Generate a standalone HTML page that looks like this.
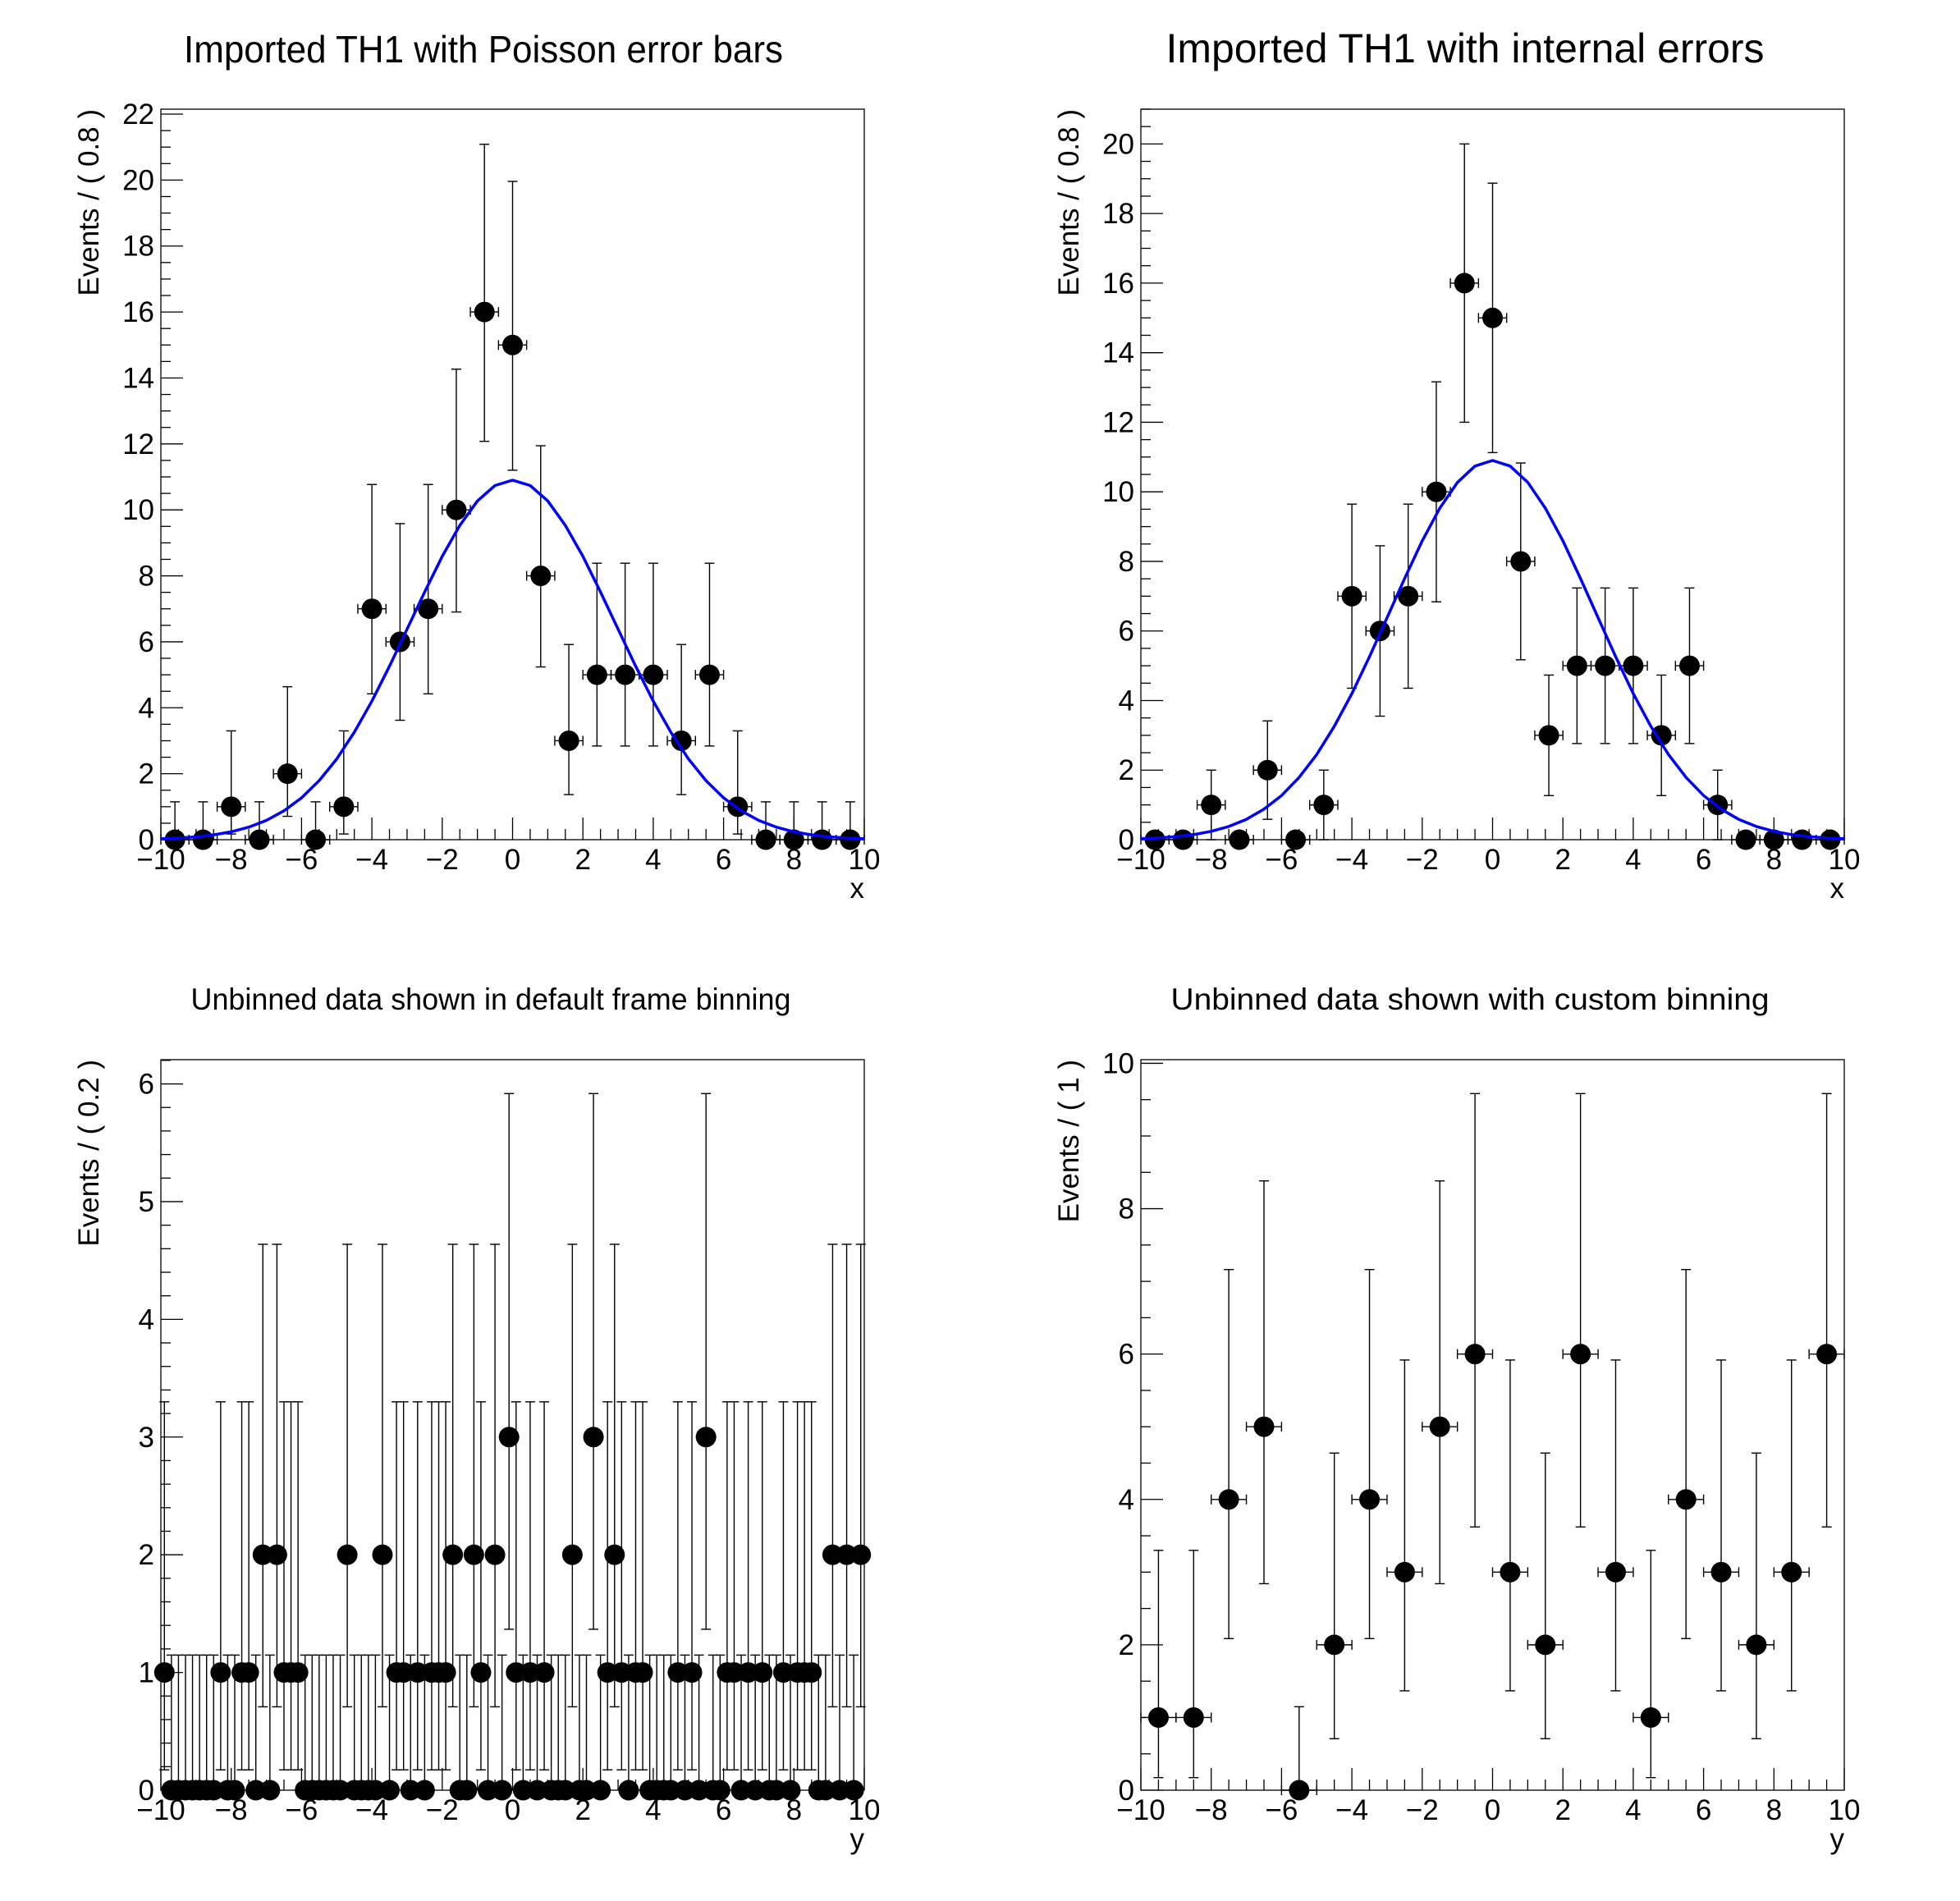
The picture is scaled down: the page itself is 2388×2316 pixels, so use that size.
<!DOCTYPE html>
<html><head><meta charset="utf-8"><style>
html,body{margin:0;padding:0;background:#fff;}
svg{display:block;font-family:"Liberation Sans",Arial,sans-serif;}
</style></head><body>
<svg id="root" width="2388" height="2316" viewBox="0 0 2388 2316" xmlns="http://www.w3.org/2000/svg"></svg>
<script>
// ---- data ----
const topBinCenters = [-9.6,-8.8,-8.0,-7.2,-6.4,-5.6,-4.8,-4.0,-3.2,-2.4,-1.6,-0.8,0,0.8,1.6,2.4,3.2,4.0,4.8,5.6,6.4,7.2,8.0,8.8,9.6];
const topCounts = [0,0,1,0,2,0,1,7,6,7,10,16,15,8,3,5,5,5,3,5,1,0,0,0,0];
const poissonLo = [0,0.8273,1.2918,1.6328,1.9144,2.1592,2.3788,2.5781,2.7622,2.9342,3.0958,3.2489,3.3947,3.5341,3.6680,3.7970,3.9215];
const poissonHi = [1.1479,2.2994,2.6378,2.9181,3.1627,3.3824,3.5834,3.7699,3.9448,4.1100,4.2670,4.4169,4.5606,4.6987,4.8319,4.9605,5.0850];
const sqrtErr = [0,1,1.414,1.732,2,2.236,2.449,2.646,2.828,3,3.162,3.317,3.464,3.606,3.742,3.873,4];
const curveX = [-10,-9.5,-9,-8.5,-8,-7.5,-7,-6.5,-6,-5.5,-5,-4.5,-4,-3.5,-3,-2.5,-2,-1.5,-1,-0.5,0,0.5,1,1.5,2,2.5,3,3.5,4,4.5,5,5.5,6,6.5,7,7.5,8,8.5,9,9.5,10];
const curveY = [0.028,0.050,0.087,0.147,0.240,0.381,0.585,0.877,1.27,1.79,2.45,3.26,4.20,5.26,6.38,7.51,8.59,9.53,10.27,10.74,10.9,10.74,10.27,9.53,8.59,7.51,6.38,5.26,4.20,3.26,2.45,1.79,1.27,0.877,0.585,0.381,0.240,0.147,0.087,0.050,0.028];
const fineBinWidth = 0.2;
const fineCounts = [1,0,0,0,0,0,0,0,1,0, 0,1,1,0,2,0,2,1,1,1, 0,0,0,0,0,0,2,0,0,0, 0,2,0,1,1,0,1,0,1,1, 1,2,0,0,2,1,0,2,0,3,
  1,0,1,0,1,0,0,0,2,0, 0,3,0,1,2,1,0,1,1,0, 0,0,0,1,0,1,0,3,0,0, 1,1,0,1,0,1,0,0,1,0, 1,1,1,0,0,2,0,2,0,2];
const customBinWidth = 1;
const customCounts = [1,1,4,5,0,2,4,3,5,6,3,2,6,3,1,4,3,2,3,6];
const xTickLabels = ["\u221210","\u22128","\u22126","\u22124","\u22122","0","2","4","6","8","10"];
const yTicksTL = ["0","2","4","6","8","10","12","14","16","18","20","22"];
const yTicksTR = ["0","2","4","6","8","10","12","14","16","18","20"];
const yTicksBL = ["0","1","2","3","4","5","6"];
const yTicksBR = ["0","2","4","6","8","10"];

const NS="http://www.w3.org/2000/svg";
const root=document.getElementById('root');
function mk(tag,attrs,parent){const e=document.createElementNS(NS,tag);for(const k in attrs)e.setAttribute(k,attrs[k]);(parent||root).appendChild(e);return e;}

const L=196,R=1053,T=133,B=1023;

function panel(o){
  const g=mk('g',{transform:`translate(${o.ox},${o.oy})`});
  
  
  const xs=v=>L+(v+10)/20*(R-L);
  const ys=v=>B-v/o.ymax*(B-T);
  // title
  const t=mk('text',{x:o.titleX,y:o.titleY,'font-size':o.titleSize,'text-anchor':'middle',textLength:o.titleLen,lengthAdjust:'spacingAndGlyphs'},g);
  t.textContent=o.title;
  
  
  // frame
  const fr=mk('rect',{x:L,y:T,width:R-L,height:B-T,fill:'none',stroke:'#000','stroke-width':1.3},g);
  
  
  // x ticks
  const axg=mk('g',{stroke:'#000','stroke-width':1.3},g);
  
  
  for(let v=-10;v<=10.001;v+=0.5){
    const major=Math.abs(v/2-Math.round(v/2))<1e-6;
    mk('line',{x1:xs(v),x2:xs(v),y1:B,y2:B-(major?27:13)},axg);
  }
  xTickLabels.forEach((s,i)=>{
    const v=-10+2*i;
    const tx=mk('text',{x:xs(v),y:1059,'font-size':35,'text-anchor':'middle'},g);
    tx.textContent=s;
    
    
  });
  const xl=mk('text',{x:R,y:1094,'font-size':35,'text-anchor':'end'},g);
  xl.textContent=o.xlabel;
  
  
  // y ticks
  const ayg=mk('g',{stroke:'#000','stroke-width':1.3},g);
  
  
  const minor=o.ymajor/o.ysub;
  for(let k=0;k*minor<=o.ymax+1e-6;k++){
    const v=k*minor;
    mk('line',{x1:L,x2:L+(k%o.ysub===0?27:12),y1:ys(v),y2:ys(v)},ayg);
  }
  o.yticks.forEach((s,i)=>{
    const v=i*o.ymajor;
    const ty=mk('text',{x:188,y:ys(v)+12,'font-size':35,'text-anchor':'end'},g);
    ty.textContent=s;
    
    
  });
  const yl=mk('text',{x:0,y:0,'font-size':35,'text-anchor':'end',transform:`translate(120,${T}) rotate(-90)`},g);
  yl.textContent=o.ylabel;
  
  
  // points
  const pg=mk('g',{},g);
  
  
  o.centers.forEach((c,i)=>{
    const n=o.counts[i];
    const lo=o.errLo[n], hi=o.errHi[n];
    const cx=xs(c), cy=ys(n);
    const eg=mk('g',{stroke:'#000','stroke-width':1.4,fill:'none'},pg);
    
    
    const x1=xs(c-o.halfW), x2=xs(c+o.halfW);
    mk('line',{x1:x1,x2:x2,y1:cy,y2:cy},eg);
    mk('line',{x1:x1,x2:x1,y1:cy-6,y2:cy+6},eg);
    mk('line',{x1:x2,x2:x2,y1:cy-6,y2:cy+6},eg);
    if(hi>0){
      mk('line',{x1:cx,x2:cx,y1:ys(n+hi),y2:ys(n-lo)},eg);
      mk('line',{x1:cx-6,x2:cx+6,y1:ys(n+hi),y2:ys(n+hi)},eg);
      if(lo>0) mk('line',{x1:cx-6,x2:cx+6,y1:ys(n-lo),y2:ys(n-lo)},eg);
    }
    const m=mk('circle',{cx:cx,cy:cy,r:12.5,fill:'#000'},pg);
    
    
  });
  if(o.curve){
    const pts=curveX.map((x,i)=>xs(x).toFixed(1)+','+ys(curveY[i]).toFixed(1)).join(' ');
    const pl=mk('polyline',{points:pts,fill:'none',stroke:'#0000ff','stroke-width':3.5,'stroke-linejoin':'round'},g);
    
    
  }
}

const fineCenters=fineCounts.map((_,i)=>-10+fineBinWidth*(i+0.5));
const customCenters=customCounts.map((_,i)=>-10+customBinWidth*(i+0.5));

panel({name:'panel-poisson',ox:0,oy:0,title:'Imported TH1 with Poisson error bars',titleX:589,titleY:76,titleSize:46,titleLen:730,
  ymax:22.15,ymajor:2,ysub:4,yticks:yTicksTL,ylabel:'Events / ( 0.8 )',xlabel:'x',
  centers:topBinCenters,counts:topCounts,errLo:poissonLo,errHi:poissonHi,halfW:0.4,curve:true});
panel({name:'panel-internal',ox:1194,oy:0,title:'Imported TH1 with internal errors',titleX:591,titleY:76,titleSize:50,titleLen:729,
  ymax:21.0,ymajor:2,ysub:4,yticks:yTicksTR,ylabel:'Events / ( 0.8 )',xlabel:'x',
  centers:topBinCenters,counts:topCounts,errLo:sqrtErr,errHi:sqrtErr,halfW:0.4,curve:true});
panel({name:'panel-default-binning',ox:0,oy:1158,title:'Unbinned data shown in default frame binning',titleX:598,titleY:72,titleSize:37,titleLen:731,
  ymax:6.206,ymajor:1,ysub:5,yticks:yTicksBL,ylabel:'Events / ( 0.2 )',xlabel:'y',
  centers:fineCenters,counts:fineCounts,errLo:poissonLo,errHi:poissonHi,halfW:0.1,curve:false});
panel({name:'panel-custom-binning',ox:1194,oy:1158,title:'Unbinned data shown with custom binning',titleX:597,titleY:72,titleSize:37,titleLen:729,
  ymax:10.05,ymajor:2,ysub:4,yticks:yTicksBR,ylabel:'Events / ( 1 )',xlabel:'y',
  centers:customCenters,counts:customCounts,errLo:poissonLo,errHi:poissonHi,halfW:0.5,curve:false});
</script>
</body></html>
